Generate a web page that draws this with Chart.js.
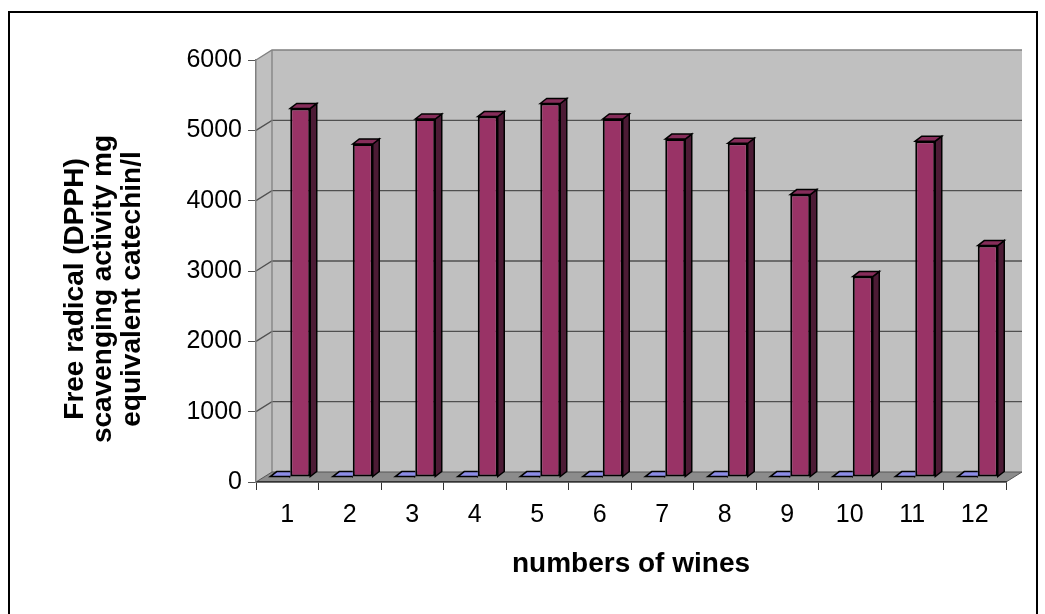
<!DOCTYPE html>
<html>
<head>
<meta charset="utf-8">
<title>Free radical scavenging activity of wines</title>
<script src="https://cdn.jsdelivr.net/npm/chart.js@4.4.1/dist/chart.umd.min.js"></script>
<style>
  html, body { margin: 0; padding: 0; background: #ffffff; }
  #wrap { width: 1045px; height: 614px; }
  canvas { display: block; }
</style>
</head>
<body>
<div id="wrap"><canvas id="chart" width="1045" height="614"></canvas></div>
<script>
// Wine samples on the category axis
const wines = ['1', '2', '3', '4', '5', '6', '7', '8', '9', '10', '11', '12'];

// DPPH radical scavenging activity, mg equivalent catechin/l
const dpphActivity = [5240, 4735, 5090, 5125, 5310, 5090, 4805, 4745, 4015, 2850, 4775, 3290];

// Companion series, close to zero on this scale
const companionSeries = [6, 6, 6, 6, 6, 6, 6, 6, 6, 6, 6, 6];

// Value axis tick labels
const yTicks = [0, 1000, 2000, 3000, 4000, 5000, 6000];

const yTitleLines = ['Free radical (DPPH)', 'scavenging activity mg', 'equivalent catechin/l'];
const xTitle = 'numbers of wines';

const FONT = '"Liberation Sans", Arial, Helvetica, sans-serif';

// depth of the walls and of the columns (pseudo 3-D)
const WALL_DX = 16, WALL_DY = -10;
const BAR_SHIFT_X = 3, BAR_SHIFT_Y = -5;
const BAR_DX = 6.5, BAR_DY = -5;

const faceColors = {
  0: { top: '#8c8ce6', side: '#4d4d99' },
  1: { top: '#862d5a', side: '#4c1b35' }
};

function poly(ctx, pts, fill, stroke, lw) {
  ctx.beginPath();
  ctx.moveTo(pts[0][0], pts[0][1]);
  for (let i = 1; i < pts.length; i++) ctx.lineTo(pts[i][0], pts[i][1]);
  ctx.closePath();
  if (fill) { ctx.fillStyle = fill; ctx.fill(); }
  if (stroke) { ctx.strokeStyle = stroke; ctx.lineWidth = lw || 1; ctx.stroke(); }
}

const box3d = {
  id: 'box3d',
  beforeDraw(chart) {
    const ctx = chart.ctx;
    const { left, right, top, bottom } = chart.chartArea;
    const ys = chart.scales.y;
    ctx.save();
    ctx.fillStyle = '#ffffff';
    ctx.fillRect(0, 0, chart.width, chart.height);
    // outer frame
    ctx.strokeStyle = '#000000';
    ctx.lineWidth = 2;
    ctx.strokeRect(9, 12, 1028, 700);

    // side wall
    poly(ctx, [[left, top], [left + WALL_DX, top + WALL_DY], [left + WALL_DX, bottom + WALL_DY], [left, bottom]], '#c0c0c0');
    // back wall
    ctx.fillStyle = '#c0c0c0';
    ctx.fillRect(left + WALL_DX, top + WALL_DY, right - left, bottom - top);

    // gridlines on side and back walls
    yTicks.forEach(v => {
      if (v === 0) return;
      const py = ys.getPixelForValue(v);
      ctx.beginPath();
      ctx.moveTo(left, py);
      ctx.lineTo(left + WALL_DX, py + WALL_DY);
      ctx.lineTo(right + WALL_DX, py + WALL_DY);
      ctx.strokeStyle = v === yTicks[yTicks.length - 1] ? '#808080' : '#505050';
      ctx.lineWidth = 1.3;
      ctx.stroke();
    });
    // wall corner
    ctx.beginPath();
    ctx.moveTo(left + WALL_DX, top + WALL_DY);
    ctx.lineTo(left + WALL_DX, bottom + WALL_DY);
    ctx.strokeStyle = '#808080';
    ctx.lineWidth = 1.3;
    ctx.stroke();

    // floor
    poly(ctx, [[left, bottom], [right, bottom], [right + WALL_DX, bottom + WALL_DY], [left + WALL_DX, bottom + WALL_DY]], '#8c8c8c', '#555555', 1);
    ctx.restore();
  },
  beforeDatasetsDraw(chart) {
    chart.ctx.save();
    chart.ctx.translate(BAR_SHIFT_X, BAR_SHIFT_Y);
  },
  afterDatasetDraw(chart, args) {
    const ctx = chart.ctx;
    const colors = faceColors[args.index];
    args.meta.data.forEach(el => {
      const { x, y, base, width } = el.getProps(['x', 'y', 'base', 'width'], true);
      const l = x - width / 2, r = x + width / 2;
      ctx.save();
      if (args.index === 0) {
        // the neighbouring column hides everything right of this one
        ctx.beginPath();
        ctx.rect(l - 5, y - 40, r - l + 5, 60);
        ctx.clip();
      }
      // side face
      poly(ctx, [[r, y], [r + BAR_DX, y + BAR_DY], [r + BAR_DX, base + BAR_DY], [r, base]], colors.side, '#000000', 1.5);
      // top face
      poly(ctx, [[l, y], [l + BAR_DX, y + BAR_DY], [r + BAR_DX, y + BAR_DY], [r, y]], colors.top, '#000000', 1.5);
      ctx.restore();
    });
  },
  afterDatasetsDraw(chart) {
    chart.ctx.restore();
  },
  afterDraw(chart) {
    const ctx = chart.ctx;
    ctx.save();
    ctx.fillStyle = '#000000';
    ctx.font = 'bold 28px ' + FONT;
    ctx.textAlign = 'center';
    ctx.textBaseline = 'middle';
    // value axis title, three rotated lines
    const cy = 289;
    const xs = [75, 103.5, 132];
    yTitleLines.forEach((line, i) => {
      ctx.save();
      ctx.translate(xs[i], cy);
      ctx.rotate(-Math.PI / 2);
      ctx.fillText(line, 0, 0);
      ctx.restore();
    });
    // category axis title
    const { left, right } = chart.chartArea;
    ctx.fillText(xTitle, (left + right) / 2, 564);
    ctx.restore();
  }
};

new Chart(document.getElementById('chart'), {
  type: 'bar',
  data: {
    labels: wines,
    datasets: [
      {
        label: 'Series1',
        data: companionSeries,
        backgroundColor: '#9999ff',
        borderColor: '#000000',
        borderWidth: 1.5,
        borderSkipped: false
      },
      {
        label: 'Series2',
        data: dpphActivity,
        backgroundColor: '#993366',
        borderColor: '#000000',
        borderWidth: 2,
        borderSkipped: false
      }
    ]
  },
  options: {
    responsive: false,
    devicePixelRatio: 1,
    animation: false,
    categoryPercentage: 0.64,
    barPercentage: 1.0,
    layout: { padding: { left: 0, top: 60, right: 39, bottom: 0 } },
    plugins: {
      legend: { display: false },
      tooltip: { enabled: false },
      title: { display: false }
    },
    scales: {
      x: {
        type: 'category',
        offset: true,
        grid: {
          offset: true,
          drawOnChartArea: false,
          drawTicks: true,
          tickLength: 8,
          color: '#333333',
          lineWidth: 1
        },
        border: { display: true, color: '#333333', width: 1.5 },
        ticks: {
          color: '#000000',
          font: { family: FONT, size: 25 },
          padding: 10,
          maxRotation: 0,
          autoSkip: false
        },
        afterFit(scale) { scale.height = 132; }
      },
      y: {
        min: 0,
        max: 6000,
        afterBuildTicks(scale) { scale.ticks = yTicks.map(v => ({ value: v })); },
        grid: {
          drawOnChartArea: false,
          drawTicks: true,
          tickLength: 8,
          color: '#555555',
          lineWidth: 1
        },
        border: { display: true, color: '#808080', width: 1.5 },
        ticks: {
          color: '#000000',
          font: { family: FONT, size: 25 },
          padding: 6,
          callback: v => String(v)
        },
        afterFit(scale) { scale.width = 256; }
      }
    }
  },
  plugins: [box3d]
});
</script>
</body>
</html>
